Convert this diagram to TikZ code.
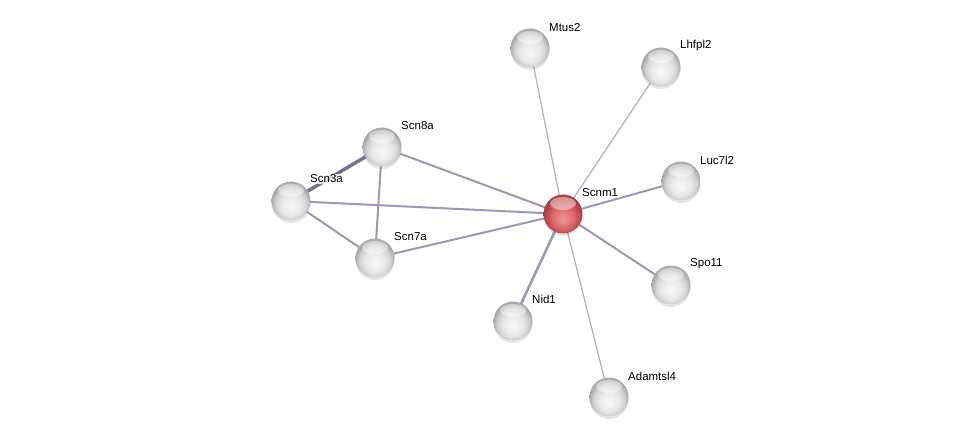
\documentclass[tikz,border=0pt]{standalone}
\usepackage{fontspec}
\setmainfont{Liberation Sans}
\usepackage{tikz}
\usetikzlibrary{calc,backgrounds,shadows}
\definecolor{edgegray}{RGB}{150,154,178}
\definecolor{edgedark}{RGB}{112,116,146}
\definecolor{edgelight}{RGB}{178,182,200}
\definecolor{redlight}{RGB}{242,150,150}
\definecolor{redmid}{RGB}{218,102,106}
\definecolor{reddark}{RGB}{170,62,68}
\pgfdeclareradialshading{grayball}{\pgfpoint{0bp}{-7bp}}{color(0bp)=(gray!6);color(13bp)=(gray!18);color(20bp)=(gray!36);color(25bp)=(gray!66);color(50bp)=(gray!66)}
\pgfdeclareradialshading{redball}{\pgfpoint{0bp}{-7bp}}{color(0bp)=(redlight);color(14bp)=(redmid);color(25bp)=(reddark);color(50bp)=(reddark)}

\begin{document}
\begin{tikzpicture}[x=1pt,y=-1pt,
  ball/.style={circle,minimum size=39pt,inner sep=0pt,shading=grayball,
    drop shadow={shadow xshift=0pt,shadow yshift=-2.5pt,opacity=0.2},
    path picture={\fill[white,opacity=0.45] ([yshift=-9pt]path picture bounding box.north) ellipse [x radius=13pt,y radius=6.5pt];}},
  hub/.style={ball,shading=redball},
  lab/.style={anchor=west,font=\fontsize{11.5}{13}\selectfont,inner sep=1pt,
    fill=white,fill opacity=0.75,text opacity=1},
  e/.style={draw=edgegray,line width=2pt},
  ethin/.style={draw=edgelight,line width=1.3pt},
  ethick/.style={draw=edgedark,line width=3.5pt}]
\useasboundingbox (0,0) rectangle (976,443);
% proteins
\node[hub] (scnm1) at (563,214) {};
\node[ball] (mtus2) at (530,48) {};
\node[ball] (lhfpl2) at (661,67) {};
\node[ball] (luc7l2) at (681,181) {};
\node[ball] (spo11) at (671,285) {};
\node[ball] (adamtsl4) at (609,397) {};
\node[ball] (nid1) at (513,321) {};
\node[ball] (scn7a) at (375,258) {};
\node[ball] (scn8a) at (382,147) {};
\node[ball] (scn3a) at (291,201) {};
% names
\node[lab] (scnm1-l) at ($(scnm1)+(18,-21)$) {Scnm1};
\node[lab] (mtus2-l) at ($(mtus2)+(18,-20)$) {Mtus2};
\node[lab] (lhfpl2-l) at ($(lhfpl2)+(18,-21)$) {Lhfpl2};
\node[lab] (luc7l2-l) at ($(luc7l2)+(18,-21)$) {Luc7l2};
\node[lab] (spo11-l) at ($(spo11)+(18,-21)$) {Spo11};
\node[lab] (adamtsl4-l) at ($(adamtsl4)+(18,-21)$) {Adamtsl4};
\node[lab] (nid1-l) at ($(nid1)+(18,-22)$) {Nid1};
\node[lab] (scn7a-l) at ($(scn7a)+(18,-21)$) {Scn7a};
\node[lab] (scn8a-l) at ($(scn8a)+(18,-21)$) {Scn8a};
\node[lab] (scn3a-l) at ($(scn3a)+(18,-22)$) {Scn3a};
% interactions
\begin{scope}[on background layer]
\draw[ethin] (scnm1.center) -- (mtus2.center);
\draw[ethin] (scnm1.center) -- (lhfpl2.center);
\draw[ethin] (scnm1.center) -- (adamtsl4.center);
\draw[e] (scnm1.center) -- (luc7l2.center);
\draw[e] (scnm1.center) -- (spo11.center);
\draw[e,line width=2.6pt] (scnm1.center) -- (nid1.center);
\draw[e] (scnm1.center) -- (scn7a.center);
\draw[e] (scnm1.center) -- (scn8a.center);
\draw[e] (scnm1.center) -- (scn3a.center);
\draw[ethick] (scn8a.center) -- (scn3a.center);
\draw[e] (scn8a.center) -- (scn7a.center);
\draw[e] (scn3a.center) -- (scn7a.center);
\end{scope}
\end{tikzpicture}
\end{document}
